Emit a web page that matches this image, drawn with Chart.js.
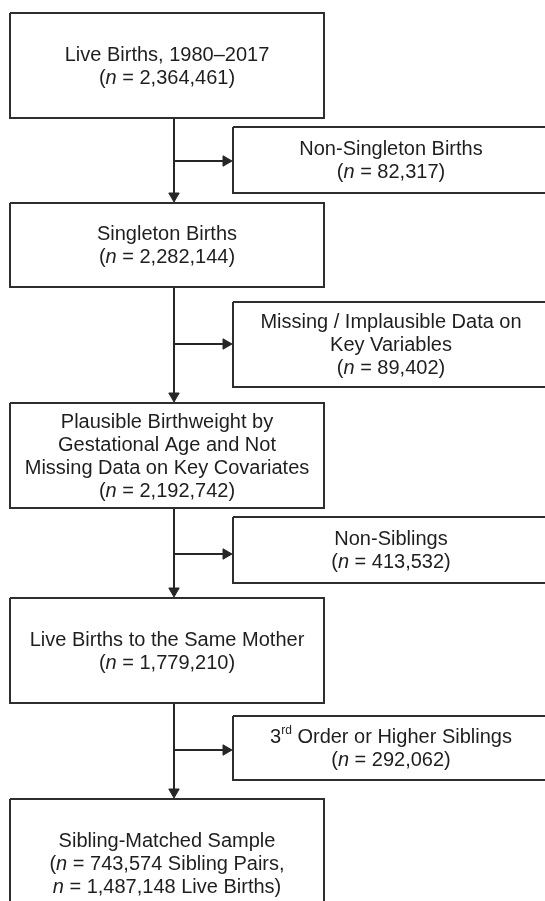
<!DOCTYPE html>
<html>
<head>
<meta charset="utf-8">
<script src="https://cdn.jsdelivr.net/npm/chart.js@4.4.1/dist/chart.umd.min.js"></script>
<style>
  html, body { margin: 0; padding: 0; background: #fff; }
  canvas { display: block; }
</style>
</head>
<body>
<canvas id="flow-chart" width="545" height="901"></canvas>
<script>
// Flow data (main cohort steps and exclusions)
const stageLabels = [
  ['Live Births, 1980–2017'],
  ['Singleton Births'],
  ['Plausible Birthweight by', 'Gestational Age and Not', 'Missing Data on Key Covariates'],
  ['Live Births to the Same Mother'],
  ['Sibling-Matched Sample']
];
const stageCounts = [2364461, 2282144, 2192742, 1779210, 743574];
const finalBirths = 1487148;

const exclusionLabels = [
  ['Non-Singleton Births'],
  ['Missing / Implausible Data on', 'Key Variables'],
  ['Non-Siblings'],
  ['3^rd^ Order or Higher Siblings']
];
const exclusionCounts = [82317, 89402, 413532, 292062];

// Layout, in page units (the scales map 1 unit to 1 px)
const trunkX = 174;
const stageX = [10, 324];
const stageY = [[13, 118], [203, 287], [403, 508], [598, 703], [799, 927]];
const exclX = [233, 549];
const exclY = [[127, 193], [302, 387], [517, 583], [716, 780]];
const branchY = [161, 344, 554, 750];

const INK = '#262626';
const BOX_INK = '#2e2e2e';
const ARROW_R = 6;
const FONT = '"Liberation Sans", Arial, sans-serif';
const FONT_SIZE = 20;
const LINE_H = 23;

const fmt = v => Number(v).toLocaleString('en-US');

function boxPath(x0, x1, y0, y1) {
  return [{ x: x0, y: y0 }, { x: x1, y: y0 }, { x: x1, y: y1 }, { x: x0, y: y1 }, { x: x0, y: y0 }];
}

function lineSet(points, color, width) {
  return {
    data: points,
    showLine: true,
    borderColor: color,
    borderWidth: width,
    pointRadius: 0,
    tension: 0,
    fill: false
  };
}

// ----------------------------------------------------
// Build datasets: boxes, connectors, arrowheads
// ----------------------------------------------------
const datasets = [];

stageY.forEach(([t, b]) => datasets.push(lineSet(boxPath(stageX[0], stageX[1], t, b), BOX_INK, 2)));
exclY.forEach(([t, b]) => datasets.push(lineSet(boxPath(exclX[0], exclX[1], t, b), BOX_INK, 2)));

const downTips = [];
const rightTips = [];
for (let i = 0; i < stageY.length - 1; i++) {
  const from = stageY[i][1];
  const to = stageY[i + 1][0];
  datasets.push(lineSet([{ x: trunkX, y: from }, { x: trunkX, y: to - ARROW_R }], INK, 2));
  datasets.push(lineSet([{ x: trunkX, y: branchY[i] }, { x: exclX[0] - ARROW_R, y: branchY[i] }], INK, 2));
  downTips.push({ x: trunkX, y: to - ARROW_R - 1 });
  rightTips.push({ x: exclX[0] - ARROW_R - 1, y: branchY[i] });
}

datasets.push({
  data: downTips,
  showLine: false,
  pointStyle: 'triangle',
  rotation: 180,
  pointRadius: ARROW_R,
  backgroundColor: INK,
  borderColor: INK,
  borderWidth: 1
});
datasets.push({
  data: rightTips,
  showLine: false,
  pointStyle: 'triangle',
  rotation: 90,
  pointRadius: ARROW_R,
  backgroundColor: INK,
  borderColor: INK,
  borderWidth: 1
});

// ----------------------------------------------------
// Text plugin: rich lines with italic *n* and ^superscript^
// ----------------------------------------------------
function segmentsOf(line) {
  return line.split(/(\*[^*]+\*|\^[^^]+\^)/).filter(s => s).map(s => {
    if (s.startsWith('*')) return { text: s.slice(1, -1), style: 'italic' };
    if (s.startsWith('^')) return { text: s.slice(1, -1), style: 'sup' };
    return { text: s, style: 'normal' };
  });
}

function fontFor(style) {
  if (style === 'italic') return `italic ${FONT_SIZE}px ${FONT}`;
  if (style === 'sup') return `${Math.round(FONT_SIZE * 0.6)}px ${FONT}`;
  return `${FONT_SIZE}px ${FONT}`;
}

function drawRichLine(ctx, line, cx, cy) {
  const segs = segmentsOf(line);
  let total = 0;
  segs.forEach(s => { ctx.font = fontFor(s.style); s.w = ctx.measureText(s.text).width; total += s.w; });
  let x = cx - total / 2;
  segs.forEach(s => {
    ctx.font = fontFor(s.style);
    ctx.fillText(s.text, x, s.style === 'sup' ? cy - 7 : cy);
    x += s.w;
  });
}

function drawBlock(chart, lines, x0, x1, y0, y1) {
  const { ctx, scales } = chart;
  const cx = (scales.x.getPixelForValue(x0) + scales.x.getPixelForValue(x1)) / 2;
  const cy = (scales.y.getPixelForValue(y0) + scales.y.getPixelForValue(y1)) / 2 + 1;
  const startY = cy - (lines.length - 1) * LINE_H / 2;
  lines.forEach((line, i) => drawRichLine(ctx, line, cx, startY + i * LINE_H));
}

const flowText = {
  id: 'flowText',
  afterDatasetsDraw(chart) {
    const ctx = chart.ctx;
    ctx.save();
    ctx.fillStyle = '#1e1e1e';
    ctx.textAlign = 'left';
    ctx.textBaseline = 'middle';

    stageLabels.forEach((label, i) => {
      let lines;
      if (i === stageLabels.length - 1) {
        lines = [...label, `(*n* = ${fmt(stageCounts[i])} Sibling Pairs,`, `*n* = ${fmt(finalBirths)} Live Births)`];
      } else {
        lines = [...label, `(*n* = ${fmt(stageCounts[i])})`];
      }
      drawBlock(chart, lines, stageX[0], stageX[1], stageY[i][0], stageY[i][1]);
    });

    exclusionLabels.forEach((label, i) => {
      const lines = [...label, `(*n* = ${fmt(exclusionCounts[i])})`];
      drawBlock(chart, lines, exclX[0], exclX[1], exclY[i][0], exclY[i][1]);
    });
    ctx.restore();
  }
};

// ----------------------------------------------------
// Chart
// ----------------------------------------------------
const ctx = document.getElementById('flow-chart').getContext('2d');
new Chart(ctx, {
  type: 'scatter',
  data: { datasets },
  options: {
    responsive: false,
    animation: false,
    events: [],
    layout: { padding: 0, autoPadding: false },
    plugins: {
      legend: { display: false },
      tooltip: { enabled: false }
    },
    scales: {
      x: { type: 'linear', min: 0, max: 545, display: false },
      y: { type: 'linear', min: 0, max: 901, reverse: true, display: false }
    }
  },
  plugins: [flowText]
});
</script>
</body>
</html>
